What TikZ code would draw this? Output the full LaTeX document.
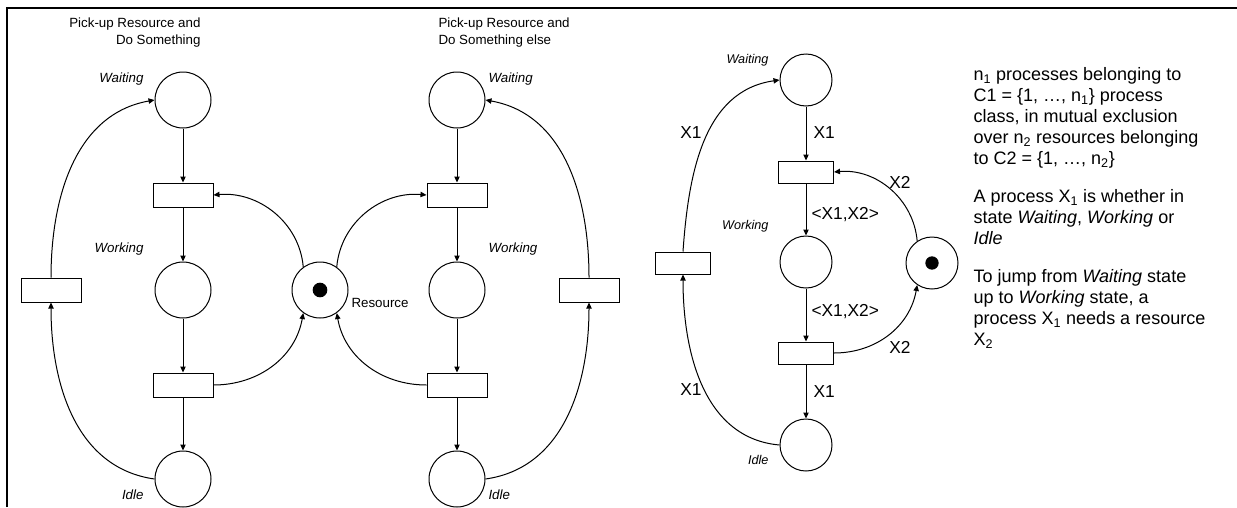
\documentclass[tikz,border=0pt]{standalone}
\usepackage{fontspec}
\setmainfont{Liberation Sans}
\usetikzlibrary{arrows.meta}

\tikzset{every picture/.style={line width=0.75pt}}
\tikzset{
  place/.style={draw, circle, minimum size=42pt, inner sep=0pt},
  smallplace/.style={draw, circle, minimum size=39pt, inner sep=0pt},
  trans/.style={draw, rectangle, minimum width=45pt, minimum height=18pt, inner sep=0pt},
  smalltrans/.style={draw, rectangle, minimum width=41.25pt, minimum height=16.5pt, inner sep=0pt},
  token/.style={fill, circle, minimum size=11pt, inner sep=0pt},
  arc/.style={-{Triangle[length=4.5pt,width=4pt]}},
  statelbl/.style={inner sep=0.75pt, font=\fontsize{10}{12.75}\selectfont\itshape},
  smalllbl/.style={inner sep=0.75pt, font=\fontsize{10}{12.75}\selectfont},
  arclbl/.style={inner sep=0.75pt, font=\fontsize{13}{15.75}\selectfont},
  note/.style={inner sep=0pt, align=left, font=\fontsize{13.5}{15.75}\selectfont},
}

\begin{document}
\begin{tikzpicture}[x=0.75pt,y=0.75pt,yscale=-1,xscale=1]
\path [use as bounding box] (0,0) rectangle (1237,507);

%Straight Lines: frame
\draw [line width=1.5]    (7,507) -- (7,8) -- (1237,8) ;

%Shapes: first process
\node [place] (wait1) at (183,100) {};
\node [trans] (go1) at (183,195) {};
\node [place] (work1) at (183,290) {};
\node [trans] (done1) at (183,385) {};
\node [place] (idle1) at (183,479) {};
\node [trans] (wake1) at (51,290) {};
%Shapes: resource
\node [place] (res) at (320,290) {};
\node [token] (tok) at (res) {};
%Shapes: second process
\node [place] (wait2) at (457,100) {};
\node [trans] (go2) at (457,195) {};
\node [place] (work2) at (457,290) {};
\node [trans] (done2) at (457,385) {};
\node [place] (idle2) at (457,479) {};
\node [trans] (wake2) at (589,290) {};
%Shapes: coloured net
\node [smallplace] (waitX) at (806,80) {};
\node [smalltrans] (goX) at (806,172) {};
\node [smallplace] (workX) at (806,262) {};
\node [smalltrans] (doneX) at (806,353) {};
\node [smallplace] (idleX) at (806,445) {};
\node [smalltrans] (wakeX) at (683,263) {};
\node [smallplace] (resX) at (932,263) {};
\node [token, minimum size=10pt] (tokX) at (resX) {};

%Straight Lines
\draw [arc]    (wait1) -- (go1) ;
\draw [arc]    (go1) -- (work1) ;
\draw [arc]    (work1) -- (done1) ;
\draw [arc]    (done1) -- (idle1) ;
\draw [arc]    (wait2) -- (go2) ;
\draw [arc]    (go2) -- (work2) ;
\draw [arc]    (work2) -- (done2) ;
\draw [arc]    (done2) -- (idle2) ;
\draw [arc]    (waitX) -- (goX) ;
\draw [arc]    (goX) -- (workX) ;
\draw [arc]    (workX) -- (doneX) ;
\draw [arc]    (doneX) -- (idleX) ;

%Curve Lines (angles flipped, yscale=-1)
\draw [arc]    (idle1.west) to [out=188,in=90] (wake1.south) ;
\draw [arc]    (wake1.north) to [out=-90,in=170] (wait1.west) ;
\draw [arc]    (res.126) to [out=-95,in=-5] (go1.east) ;
\draw [arc]    (done1.east) to [out=0,in=100] (res.234) ;
\draw [arc]    (res.54) to [out=-85,in=185] (go2.west) ;
\draw [arc]    (done2.west) to [out=180,in=80] (res.306) ;
\draw [arc]    (idle2.east) to [out=-8,in=90] (wake2.south) ;
\draw [arc]    (wake2.north) to [out=-90,in=10] (wait2.east) ;
\draw [arc]    (wakeX.north) to [out=-86,in=172] (waitX.west) ;
\draw [arc]    (idleX.west) to [out=185,in=90] (wakeX.south) ;
\draw [arc]    (resX.124) to [out=-95,in=-5] (goX.east) ;
\draw [arc]    (doneX.east) to [out=0,in=100] (resX.236) ;

% Text Node
\node [smalllbl, align=right, anchor=east] (title1) at (202,32.5) {Pick-up Resource and\\Do Something};
% Text Node
\node [smalllbl, align=left, anchor=west] (title2) at (437,32.5) {Pick-up Resource and\\Do Something else};
% Text Node
\node [statelbl, anchor=east] (lwait1) at (145,79) {Waiting};
\node [statelbl, anchor=east] (lwork1) at (145,249) {Working};
\node [statelbl, anchor=east] (lidle1) at (145,495) {Idle};
% Text Node
\node [statelbl, anchor=west] (lwait2) at (487,79) {Waiting};
\node [statelbl, anchor=west] (lwork2) at (487,249) {Working};
\node [statelbl, anchor=west] (lidle2) at (487,495) {Idle};
% Text Node
\node [smalllbl, anchor=west] (lres) at (350,303) {Resource};
% Text Node
\node [statelbl, font=\fontsize{9.5}{12}\selectfont\itshape, anchor=east] (lwaitX) at (770,60) {Waiting};
\node [statelbl, font=\fontsize{9.5}{12}\selectfont\itshape, anchor=east] (lworkX) at (770,226) {Working};
\node [statelbl, font=\fontsize{9.5}{12}\selectfont\itshape, anchor=east] (lidleX) at (770,460) {Idle};
% Text Node
\node [arclbl] (x1a) at (691,133) {X1};
\node [arclbl, anchor=west] (x1b) at (812,133) {X1};
\node [arclbl] (x2a) at (900,182) {X2};
\node [arclbl, anchor=west] (pairA) at (810,215) {<X1,X2>};
\node [arclbl, anchor=west] (pairB) at (810,312) {<X1,X2>};
\node [arclbl] (x2b) at (900,347) {X2};
\node [arclbl, anchor=west] (x1c) at (812,392) {X1};
\node [arclbl] (x1d) at (691,390) {X1};
% Text Node
\node [note, anchor=north west] (note1) at (973,67) {n\textsubscript{1} processes belonging to\\C1 = \{1, …, n\textsubscript{1}\} process\\class, in mutual exclusion\\over n\textsubscript{2} resources belonging\\to C2 = \{1, …, n\textsubscript{2}\}};
% Text Node
\node [note, anchor=north west] (note2) at (973,189) {A process X\textsubscript{1} is whether in\\state \textit{Waiting}, \textit{Working} or\\\textit{Idle}};
% Text Node
\node [note, anchor=north west] (note3) at (973,269) {To jump from \textit{Waiting} state\\up to \textit{Working} state, a\\process X\textsubscript{1} needs a resource\\X\textsubscript{2}};

\end{tikzpicture}
\end{document}
